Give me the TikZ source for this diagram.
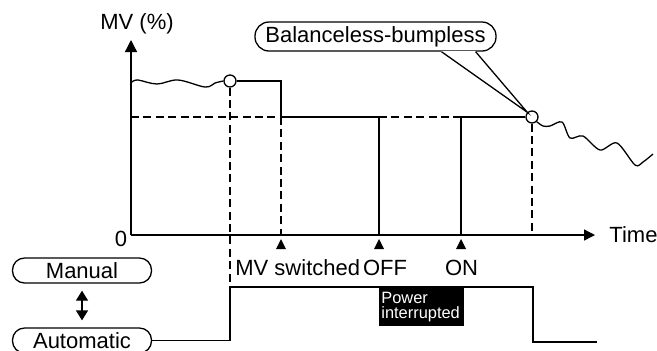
\documentclass[tikz,border=0pt]{standalone}
\usepackage{fontspec}
\setmainfont{Liberation Sans}
\usetikzlibrary{arrows.meta,calc,positioning}

\tikzset{
  sig/.style={line width=0.65pt},
  guide/.style={line width=0.65pt,dash pattern=on 4pt off 2.2pt},
  pill/.style={draw,line width=0.65pt,rounded corners=6pt,minimum width=69.5pt,
    minimum height=12.5pt,inner sep=0pt},
  joint/.style={circle,draw,fill=white,line width=0.65pt,minimum size=6pt,inner sep=0pt},
  powerbox/.style={fill=black,text=white,font=\fontsize{8.2}{7.5}\selectfont,align=left,
    minimum width=42.5pt,minimum height=19.5pt,inner xsep=1pt,inner ysep=0pt,
    text width=40.5pt},
}

\begin{document}
\begin{tikzpicture}[x=0.5pt,y=-0.5pt,font=\fontsize{11}{12}\selectfont]
\useasboundingbox (0,0) rectangle (657,350);

% Axes.
\coordinate (orig) at (131,235);
\coordinate (ytip) at (131,40);
\coordinate (xtip) at (595,235);
\draw[sig,-{Triangle[length=6pt,width=6pt]}] (orig) -- (ytip);
\draw[sig,-{Triangle[length=5.5pt,width=5.5pt]}] (orig) -- (xtip);
\node (mvlab) at (137,24) {MV (\%)};
\node[anchor=base west,inner sep=2pt] (timelab) at (605,242) {Time};
\node (zero) at (121,239) {0};

% MV trace.
\node[joint] (dotL) at (230,81) {};
\node[joint] (dotR) at (532,117) {};
\draw[guide] (131,117) -- (281,117);
\draw[guide] (379,117) -- (461,117);
\draw[guide] (dotL.south) -- (230,287);
\draw[guide] (281,117) -- (281,235);
\draw[guide] (dotR.south) -- (532,235);
\draw[sig] plot[smooth,tension=0.6] coordinates
  {(132,82) (138,80) (157,84) (178,80) (205,87) (215,83) (dotL.west)};
\draw[sig] (dotL.east) -- (281,81) -- (281,117) -- (379,117) -- (379,235);
\draw[sig] (461,235) -- (461,117) -- (dotR.west);
\draw[sig] plot[smooth,tension=0.5] coordinates
  {(dotR.south east) (543,126) (550,126) (562,122) (570,138) (583,136)
   (600,150) (617,143) (635,165) (643,162) (653,154)};

% Event markers.
\foreach \x in {281,379,461}
  \fill (\x,239) -- ++(-5,10) -- ++(10,0) -- cycle;
\node[anchor=base west,inner sep=0pt] (swlab) at (235,275) {MV switched};
\node[anchor=base] (offlab) at (385,275) {OFF};
\node[anchor=base] (onlab) at (461.5,275) {ON};

% Callout.
\node[pill,minimum width=120.5pt,minimum height=14.5pt,rounded corners=7pt,fill=white]
  (bal) at (375.5,36.5) {Balanceless-bumpless};
\coordinate (ptrA) at ($(bal.south west)!0.772!(bal.south east)$);
\coordinate (ptrB) at ($(bal.south west)!0.913!(bal.south east)$);
\draw[white,line width=1pt] (ptrA) -- (ptrB);
\draw[sig] (ptrA) -- (dotR.north west) -- (ptrB);

% Mode signal.
\node[pill] (man) at (82,270.5) {Manual};
\node[pill] (auto) at (82,340.5) {Automatic};
\draw[sig,{Triangle[length=5pt,width=6pt]}-{Triangle[length=5pt,width=6pt]},
  shorten <=3.5pt,shorten >=3.5pt] (man) -- (auto);
\draw[sig] (auto.east) -- (230,340.5) -- (230,287) -- (533,287) -- (533,342) -- (597,342);
\node[powerbox,anchor=north west] (power) at (379,287) {Power\\interrupted};
\end{tikzpicture}
\end{document}
